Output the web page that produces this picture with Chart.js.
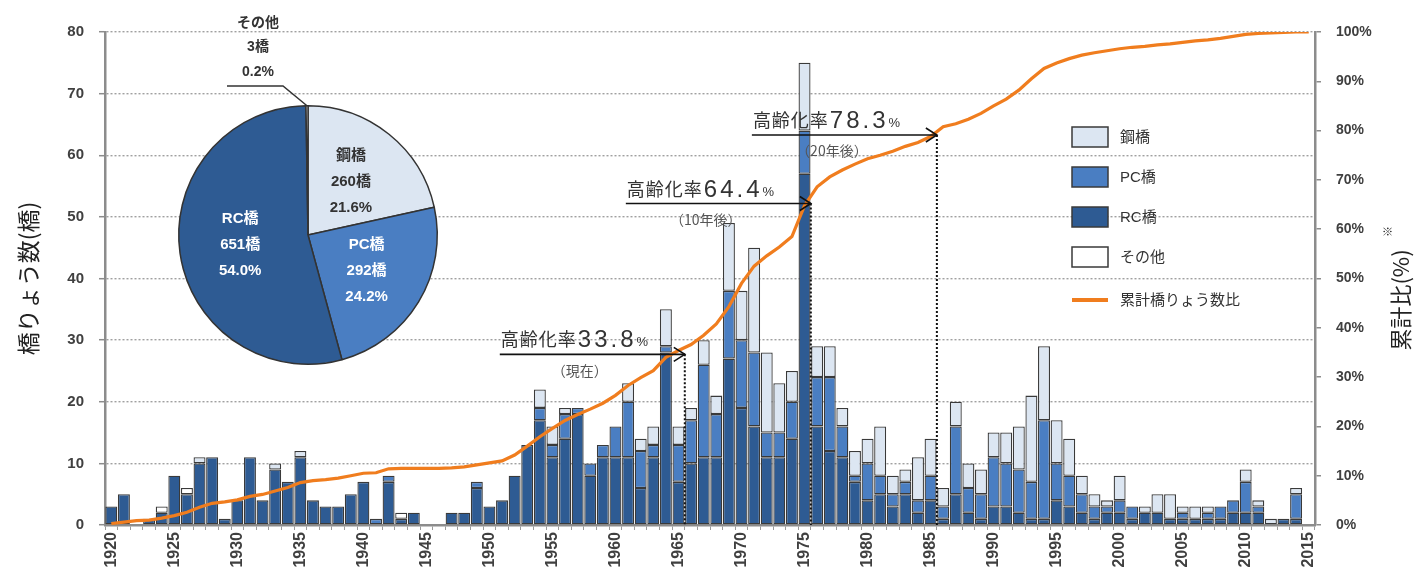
<!DOCTYPE html>
<html><head><meta charset="utf-8">
<script src="https://cdn.jsdelivr.net/npm/chart.js@4/dist/chart.umd.min.js"></script>
<style>
html,body{margin:0;padding:0;background:#fff;}
#wrap{position:relative;width:1415px;height:585px;overflow:hidden;}
#main{position:absolute;left:0;top:0;width:1415px;height:585px;}
#pieBox{position:absolute;left:150px;top:0;width:320px;height:380px;}
</style></head><body>
<div id="wrap"><div id="main"><canvas id="c1"></canvas></div><div id="pieBox"><canvas id="c2"></canvas></div></div>
<script>
// ---- DATA ----
const years = [1920,1921,1922,1923,1924,1925,1926,1927,1928,1929,1930,1931,1932,1933,1934,1935,1936,1937,1938,1939,
1940,1941,1942,1943,1944,1945,1946,1947,1948,1949,1950,1951,1952,1953,1954,1955,1956,1957,1958,1959,
1960,1961,1962,1963,1964,1965,1966,1967,1968,1969,1970,1971,1972,1973,1974,1975,1976,1977,1978,1979,
1980,1981,1982,1983,1984,1985,1986,1987,1988,1989,1990,1991,1992,1993,1994,1995,1996,1997,1998,1999,
2000,2001,2002,2003,2004,2005,2006,2007,2008,2009,2010,2011,2012,2013,2014,2015];
const xTickYears = [1920,1925,1930,1935,1940,1945,1950,1955,1960,1965,1970,1975,1980,1985,1990,1995,2000,2005,2010,2015];
const rcBridges = [3,5,0,1,2,8,5,10,11,1,4,11,4,9,7,11,4,3,3,5,
7,0,7,1,2,0,0,2,2,6,3,4,8,13,17,11,14,18,8,11,
11,11,6,11,28,7,10,11,11,27,19,16,11,11,14,57,16,12,11,7,
4,5,3,5,2,4,1,5,2,1,3,3,2,1,1,4,3,2,1,2,
2,1,2,2,1,1,1,1,1,2,2,2,0,1,1,0];
const pcBridges = [0,0,0,0,0,0,0,0,0,0,0,0,0,0,0,0,0,0,0,0,
0,1,1,0,0,0,0,0,0,1,0,0,0,0,2,2,4,1,2,2,
5,9,6,2,1,6,7,15,7,11,11,12,4,4,6,7,8,12,5,1,
6,3,2,2,2,4,2,11,4,4,8,7,7,6,16,6,5,3,2,1,
2,2,0,0,0,1,0,1,2,2,5,1,0,0,4,0];
const steelBridges = [0,0,0,0,0,0,0,1,0,0,0,0,0,1,0,1,0,0,0,0,
0,0,0,0,0,0,0,0,0,0,0,0,0,0,3,3,1,0,0,0,
0,3,2,3,6,3,2,4,3,11,8,17,13,8,5,11,5,5,3,4,
4,8,3,2,7,6,3,4,4,4,4,5,7,14,12,7,6,3,2,1,
4,0,1,3,4,1,2,1,0,0,2,1,1,0,1,0];
const otherBridges = [0,0,0,0,1,0,1,0,0,0,0,0,0,0,0,0,0,0,0,0,
0,0,0,1,0,0,0,0,0,0,0,0,0,0,0,0,0,0,0,0,
0,0,0,0,0,0,0,0,0,0,0,0,0,0,0,0,0,0,0,0,
0,0,0,0,0,0,0,0,0,0,0,0,0,0,0,0,0,0,0,0,
0,0,0,0,0,0,0,0,0,0,0,0,0,0,0,0];
const cumulativePct = [0.3,0.6,0.9,1.0,1.4,1.9,2.6,3.6,4.4,4.7,5.1,5.8,6.2,6.9,7.6,8.6,9.0,9.2,9.5,10.0,
10.5,10.6,11.4,11.5,11.5,11.5,11.5,11.6,11.8,12.2,12.6,13.0,14.2,16.0,17.9,19.6,21.2,22.4,23.5,24.7,
26.3,28.3,29.9,31.3,34.0,35.4,36.6,38.5,40.8,44.3,49.0,52.5,54.6,56.4,58.5,64.8,68.6,70.6,72.0,73.2,
74.3,75.0,75.8,76.8,77.6,78.8,80.8,81.4,82.3,83.5,85.0,86.4,88.2,90.5,92.6,93.7,94.6,95.3,95.8,96.2,
96.6,96.9,97.1,97.4,97.6,97.9,98.2,98.4,98.7,99.1,99.5,99.7,99.8,99.9,100,100];
const leftTicks = [0,10,20,30,40,50,60,70,80];
const rightTicks = [0,10,20,30,40,50,60,70,80,90,100];
const pieLabels = ['鋼橋','PC橋','RC橋','その他'];
const pieValues = [260,292,651,3];
const agingYears = [1965,1975,1985];
const agingRates = [33.8,64.4,78.3];
const agingNotes = ['（現在）','（10年後）','（20年後）'];

// ---- STYLE ----
const C_RC='#2E5B93', C_PC='#4A7EC2', C_ST='#DCE6F2', C_OT='#FFFFFF', C_BD='#3A3A3A', C_LINE='#F07D1E';
const JP = '"Liberation Sans", Arial, "Noto Sans CJK JP", sans-serif';

const legendPlugin = {
  id:'legendInside',
  afterDraw(chart){
    const ctx = chart.ctx;
    const items = [
      {t:'鋼橋', c:C_ST},{t:'PC橋', c:C_PC},{t:'RC橋', c:C_RC},{t:'その他', c:C_OT},{t:'累計橋りょう数比', line:true}
    ];
    const bx = 1072, ys=[137,177,217,257,300];
    ctx.save();
    items.forEach((it,i)=>{
      const y = ys[i];
      if(it.line){
        ctx.strokeStyle=C_LINE; ctx.lineWidth=4;
        ctx.beginPath(); ctx.moveTo(bx,y); ctx.lineTo(bx+36,y); ctx.stroke();
      } else {
        ctx.fillStyle=it.c; ctx.fillRect(bx,y-10,36,20);
        ctx.strokeStyle=C_BD; ctx.lineWidth=1.5; ctx.strokeRect(bx,y-10,36,20);
      }
      ctx.fillStyle='#333'; ctx.font='15px '+JP; ctx.textBaseline='middle'; ctx.textAlign='left';
      ctx.fillText(it.t, bx+48, y+1);
    });
    ctx.restore();
  }
};

const annotPlugin = {
  id:'aging',
  afterDatasetsDraw(chart){
    const ctx = chart.ctx, xs = chart.scales.x, y2 = chart.scales.y2, area = chart.chartArea;
    const half = (xs.getPixelForValue(1)-xs.getPixelForValue(0))/2;
    ctx.save();
    agingYears.forEach((yr,i)=>{
      const idx = years.indexOf(yr);
      const tx = xs.getPixelForValue(idx)+half;
      const ty = y2.getPixelForValue(agingRates[i]) - 4;
      ctx.strokeStyle='#111'; ctx.lineWidth=2; ctx.setLineDash([2,2]);
      ctx.beginPath(); ctx.moveTo(tx,ty); ctx.lineTo(tx,area.bottom); ctx.stroke();
      ctx.setLineDash([]);
      const sx = tx-185;
      ctx.lineWidth=1.6;
      ctx.beginPath(); ctx.moveTo(sx,ty); ctx.lineTo(tx,ty); ctx.stroke();
      ctx.beginPath(); ctx.moveTo(tx-11,ty-7); ctx.lineTo(tx,ty); ctx.lineTo(tx-11,ty+7); ctx.stroke();
      ctx.fillStyle='#333'; ctx.textBaseline='alphabetic'; ctx.textAlign='left';
      ctx.font='18px "Noto Sans CJK JP", sans-serif';
      ctx.letterSpacing='1px';
      let x = sx+1;
      ctx.fillText('高齢化率', x, ty-8); x += ctx.measureText('高齢化率').width+1;
      ctx.font='24px "Liberation Sans", Arial, sans-serif';
      ctx.letterSpacing='3px';
      const num = agingRates[i].toFixed(1);
      ctx.fillText(num, x, ty-7); x += ctx.measureText(num).width;
      ctx.letterSpacing='0px';
      ctx.font='13px "Liberation Sans", Arial, sans-serif';
      ctx.fillText('%', x, ty-8);
      ctx.font='14px "Noto Sans CJK JP", sans-serif'; ctx.fillStyle='#555';
      ctx.textAlign='center'; ctx.textBaseline='middle';
      ctx.fillText(agingNotes[i], sx+80, ty+16);
    });
    ctx.restore();
  }
};

const rightTitlePlugin = {
  id:'rightTitle',
  afterDraw(chart){
    const ctx = chart.ctx;
    ctx.save();
    ctx.translate(1401, 300); ctx.rotate(-Math.PI/2);
    ctx.fillStyle='#222'; ctx.font='22px "Noto Sans CJK JP", sans-serif';
    ctx.textAlign='center'; ctx.textBaseline='middle';
    const t='累計比(%)';
    ctx.fillText(t,0,0);
    const w = ctx.measureText(t).width;
    ctx.font='11px "Noto Sans CJK JP", sans-serif';
    ctx.fillText('※', w/2+18, -13);
    ctx.restore();
  }
};

new Chart(document.getElementById('c1'), {
  type:'bar',
  data:{
    labels: years,
    datasets:[
      {type:'line', label:'累計橋りょう数比', data:cumulativePct, yAxisID:'y2', borderColor:C_LINE, borderWidth:3.2, pointRadius:0, tension:0, order:0},
      {label:'RC橋', data:rcBridges, backgroundColor:C_RC, borderColor:C_BD, borderWidth:1.3, borderSkipped:false, stack:'s', order:1},
      {label:'PC橋', data:pcBridges, backgroundColor:C_PC, borderColor:C_BD, borderWidth:1.3, borderSkipped:false, stack:'s', order:1},
      {label:'鋼橋', data:steelBridges, backgroundColor:C_ST, borderColor:C_BD, borderWidth:1.3, borderSkipped:false, stack:'s', order:1},
      {label:'その他', data:otherBridges, backgroundColor:C_OT, borderColor:C_BD, borderWidth:1.3, borderSkipped:false, stack:'s', order:1}
    ]
  },
  options:{
    responsive:true, maintainAspectRatio:false, animation:false,
    datasets:{bar:{barPercentage:0.95, categoryPercentage:1}},
    layout:{padding:{top:32,left:0,right:0,bottom:0}},
    plugins:{legend:{display:false}, tooltip:{enabled:false}},
    scales:{
      x:{type:'category', stacked:true, offset:true,
        grid:{display:true, drawOnChartArea:false, drawTicks:true, tickLength:5, offset:true, color:'#9a9a9a', lineWidth:1},
        border:{display:true, color:'#8c8c8c', width:2.5},
        ticks:{autoSkip:false, maxRotation:90, minRotation:90, padding:2, color:'#404040',
          font:{family:'"Liberation Sans", Arial, sans-serif', size:16, weight:'bold'},
          callback:(v,i)=> xTickYears.includes(years[i]) ? String(years[i]) : ''},
        afterFit:(s)=>{s.height=60;}
      },
      y:{stacked:true, min:0, max:80, position:'left',
        afterBuildTicks:(s)=>{s.ticks = leftTicks.map(v=>({value:v}));},
        grid:{color:'#a0a0a0', lineWidth:1.4, tickLength:6, tickColor:'#8c8c8c', tickWidth:1.5},
        border:{display:true, color:'#8c8c8c', width:2.5, dash:[2,2]},
        ticks:{padding:15, color:'#404040', font:{family:'"Liberation Sans", Arial, sans-serif', size:15, weight:'bold'}},
        title:{display:true, text:'橋りょう数(橋)', color:'#222', padding:{top:14,bottom:0}, font:{family:'"Noto Sans CJK JP", sans-serif', size:23}},
        afterFit:(s)=>{s.width=105;}
      },
      y2:{min:0, max:100, position:'right',
        afterBuildTicks:(s)=>{s.ticks = rightTicks.map(v=>({value:v}));},
        grid:{drawOnChartArea:false, tickLength:6, color:'#8c8c8c', lineWidth:1.5},
        border:{display:true, color:'#8c8c8c', width:2.5},
        ticks:{padding:15, color:'#404040', font:{family:'"Liberation Sans", Arial, sans-serif', size:14, weight:'bold'}, callback:(v)=>v+'%'},
        afterFit:(s)=>{s.width=100;}
      }
    }
  },
  plugins:[annotPlugin, legendPlugin, rightTitlePlugin]
});

// ---- PIE ----
const pieLabelPlugin = {
  id:'pieLabels',
  afterDatasetsDraw(chart){
    const ctx = chart.ctx;
    const meta = chart.getDatasetMeta(0);
    const total = pieValues.reduce((a,b)=>a+b,0);
    ctx.save();
    ctx.textAlign='center'; ctx.textBaseline='middle';
    meta.data.forEach((arc,i)=>{
      const p = arc.getProps(['x','y','startAngle','endAngle','outerRadius']);
      const pct = (pieValues[i]/total*100).toFixed(1)+'%';
      const lines = [pieLabels[i], pieValues[i]+'橋', pct];
      if(i===3){
        ctx.fillStyle='#333'; ctx.font='bold 14px '+JP;
        const lx=108;
        ctx.fillText(lines[0], lx, 23); ctx.fillText(lines[1], lx, 47); ctx.fillText(lines[2], lx, 72);
        const ma=(p.startAngle+p.endAngle)/2;
        const ex=p.x+Math.cos(ma)*p.outerRadius, ey=p.y+Math.sin(ma)*p.outerRadius;
        ctx.strokeStyle='#333'; ctx.lineWidth=1.5;
        ctx.beginPath(); ctx.moveTo(77,86); ctx.lineTo(133,86); ctx.lineTo(ex,ey); ctx.stroke();
        return;
      }
      const ma=(p.startAngle+p.endAngle)/2, r=p.outerRadius*0.53;
      const cx=p.x+Math.cos(ma)*r, cy=p.y+Math.sin(ma)*r;
      ctx.fillStyle = i===0 ? '#333' : '#fff';
      ctx.font='bold 15px '+JP;
      ctx.fillText(lines[0], cx, cy-26); ctx.fillText(lines[1], cx, cy); ctx.fillText(lines[2], cx, cy+26);
    });
    ctx.restore();
  }
};
new Chart(document.getElementById('c2'), {
  type:'pie',
  data:{labels:pieLabels, datasets:[{data:pieValues, backgroundColor:[C_ST,C_PC,C_RC,C_OT], borderColor:'#333', borderWidth:1.5}]},
  options:{responsive:true, maintainAspectRatio:false, animation:false,
    layout:{padding:{left:28,right:32,top:105,bottom:15}},
    plugins:{legend:{display:false}, tooltip:{enabled:false}}},
  plugins:[pieLabelPlugin]
});
</script>
</body></html>
